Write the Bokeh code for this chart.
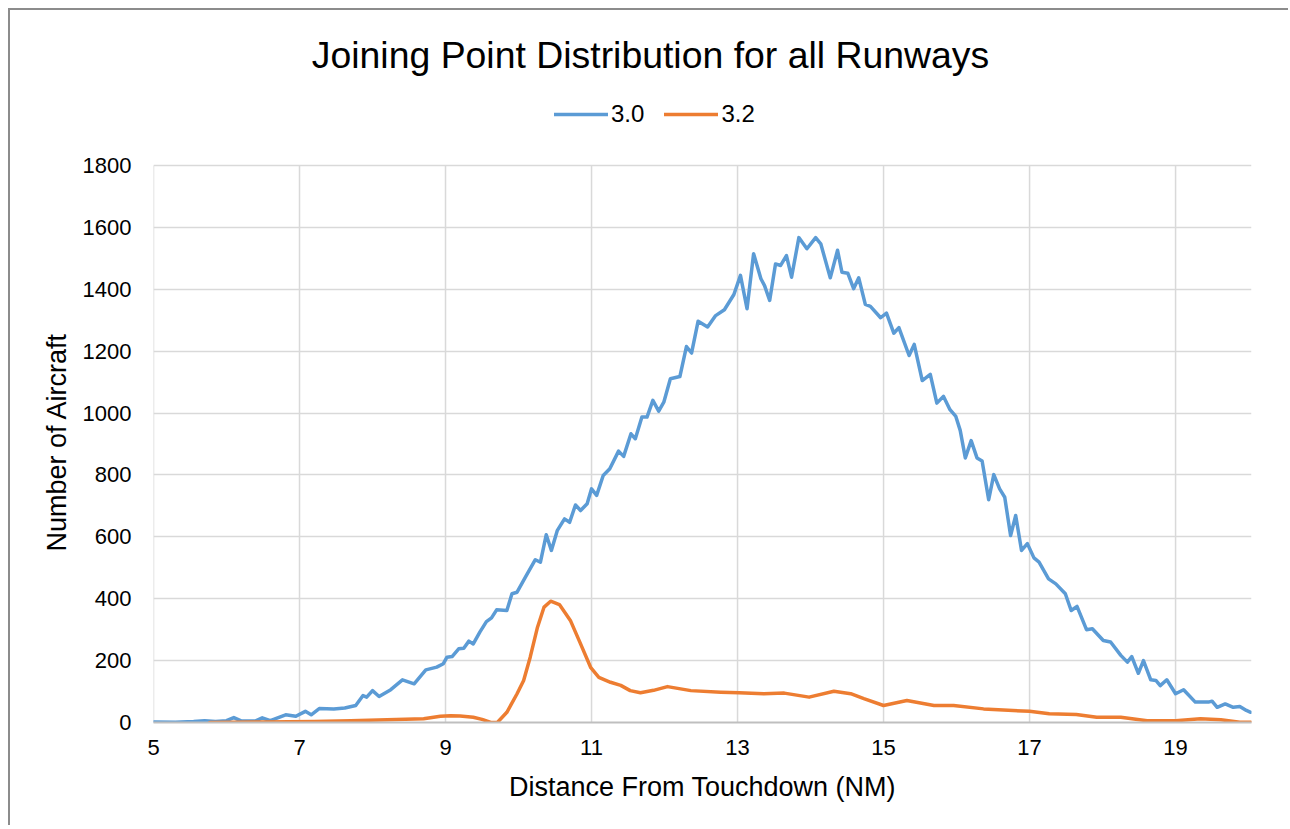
from bokeh.plotting import figure
from bokeh.models import Legend, LegendItem, FixedTicker, Range1d, Title, Label
from bokeh.embed import file_html
from bokeh.resources import INLINE

# ---------------- data ----------------
dist_30 = [5.00, 5.30, 5.55, 5.70, 5.85, 6.00, 6.10, 6.20, 6.40, 6.49,
           6.60, 6.81, 6.95, 7.08, 7.16, 7.27, 7.47, 7.62, 7.77, 7.87,
           7.92, 8.00, 8.09, 8.25, 8.41, 8.57, 8.73, 8.88, 8.97, 9.02,
           9.09, 9.18, 9.25, 9.32, 9.38, 9.47, 9.56, 9.63, 9.70, 9.84,
           9.91, 9.98, 10.10, 10.23, 10.30, 10.38, 10.45, 10.53, 10.63, 10.70,
           10.78, 10.85, 10.94, 11.00, 11.07, 11.16, 11.25, 11.37, 11.44, 11.54,
           11.60, 11.69, 11.76, 11.84, 11.92, 11.99, 12.08, 12.21, 12.30, 12.37,
           12.46, 12.59, 12.70, 12.82, 12.95, 13.04, 13.13, 13.22, 13.32, 13.37,
           13.44, 13.52, 13.59, 13.67, 13.74, 13.84, 13.95, 14.07, 14.14, 14.27,
           14.37, 14.43, 14.51, 14.59, 14.66, 14.75, 14.82, 14.96, 15.04, 15.14,
           15.21, 15.35, 15.42, 15.53, 15.64, 15.73, 15.82, 15.91, 15.99, 16.05,
           16.12, 16.20, 16.28, 16.35, 16.44, 16.51, 16.59, 16.66, 16.74, 16.81,
           16.89, 16.97, 17.06, 17.13, 17.26, 17.36, 17.49, 17.57, 17.65, 17.78,
           17.86, 18.01, 18.11, 18.25, 18.34, 18.40, 18.49, 18.56, 18.66, 18.73,
           18.79, 18.88, 19.00, 19.11, 19.27, 19.45, 19.50, 19.57, 19.68, 19.79,
           19.88, 19.97, 20.03]
count_30 = [2, 1, 3, 6, 3, 6, 16, 5, 5, 15,
            6, 25, 20, 36, 25, 45, 44, 47, 55, 87,
            82, 103, 84, 106, 138, 125, 170, 179, 190, 211,
            213, 238, 240, 263, 254, 292, 326, 338, 364, 362,
            416, 421, 472, 526, 518, 607, 556, 620, 658, 647,
            703, 685, 707, 755, 734, 798, 820, 877, 860, 933,
            917, 987, 987, 1041, 1006, 1035, 1111, 1118, 1215, 1194,
            1297, 1278, 1315, 1334, 1383, 1445, 1337, 1515, 1434, 1412,
            1364, 1482, 1477, 1509, 1439, 1567, 1531, 1567, 1547, 1437,
            1526, 1455, 1452, 1402, 1437, 1351, 1345, 1308, 1323, 1258,
            1276, 1186, 1222, 1105, 1125, 1032, 1054, 1011, 989, 944,
            855, 911, 855, 845, 720, 801, 755, 728, 604, 669,
            556, 578, 532, 518, 464, 448, 416, 362, 375, 300,
            303, 265, 260, 217, 195, 213, 159, 200, 138, 136,
            119, 138, 93, 106, 66, 66, 69, 49, 60, 49,
            52, 39, 33]

dist_32 = [5.77, 6.50, 7.20, 7.70, 8.20, 8.70, 8.93, 9.07, 9.20, 9.38,
           9.50, 9.62, 9.71, 9.84, 9.98, 10.07, 10.16, 10.26, 10.35, 10.44,
           10.56, 10.71, 10.85, 10.99, 11.10, 11.26, 11.40, 11.53, 11.67, 11.85,
           12.04, 12.36, 12.77, 13.02, 13.36, 13.64, 13.98, 14.32, 14.55, 14.73,
           15.00, 15.32, 15.69, 15.96, 16.37, 17.00, 17.27, 17.64, 17.92, 18.11,
           18.25, 18.61, 19.00, 19.34, 19.62, 19.88, 20.03]
count_32 = [0, 2, 3, 6, 9, 12, 20, 22, 21, 17,
            10, 0, 0, 33, 93, 136, 211, 308, 373, 392,
            381, 330, 254, 177, 146, 130, 120, 103, 96, 104,
            116, 103, 98, 96, 93, 95, 82, 101, 93, 77,
            55, 71, 55, 55, 44, 36, 28, 26, 17, 17,
            17, 6, 6, 12, 9, 1, 1]

series_labels = ["3.0", "3.2"]
x_ticks = [5, 7, 9, 11, 13, 15, 17, 19]
y_ticks = [0, 200, 400, 600, 800, 1000, 1200, 1400, 1600, 1800]

title_text = "Joining Point Distribution for all Runways"
x_title = "Distance From Touchdown (NM)"
y_title = "Number of Aircraft"

# ---------------- styling / geometry (page pixels) ----------------
FONT = "Liberation Sans"
BLUE = "#5B9BD5"
ORANGE = "#ED7D31"
GRID = "#d9d9d9"
TXT = "#000000"

OX, OY = 10, 10                # figure content origin (css margin 8 + border 2)
FRAME_L, FRAME_R = 153, 1251   # plot area left / right
FRAME_B = 722                  # y = 0
Y_TOP_PX = 165                 # y = 1800
W, H = 1290 - OX, 827 - OY

BL = FRAME_L - OX
BR = W - BL - (FRAME_R - FRAME_L)
BT = 0
BB = H - (FRAME_B - OY)
frame_h = FRAME_B - OY
y_max = y_ticks[-1] * frame_h / (FRAME_B - Y_TOP_PX)   # frame reaches up to the title

p = figure(width=W, height=H, output_backend="svg", toolbar_location=None,
           title=None,
           x_range=Range1d(5, 20.04), y_range=Range1d(0, y_max),
           min_border_left=BL, min_border_right=BR,
           min_border_top=BT, min_border_bottom=BB)
p.outline_line_color = None
p.background_fill_color = "white"
p.border_fill_color = "white"
p.styles = {"margin-left": "8px", "margin-top": "8px",
            "border-top": "2px solid #8c8c8c", "border-left": "2px solid #8c8c8c"}

# grid: horizontal lines from the grid, vertical lines limited to 0..1800
p.xaxis.ticker = FixedTicker(ticks=x_ticks)
p.yaxis.ticker = FixedTicker(ticks=y_ticks)
p.ygrid.ticker = FixedTicker(ticks=y_ticks)
p.ygrid.grid_line_color = GRID
p.ygrid.grid_line_width = 1.5
p.xgrid.grid_line_color = None
p.segment(x0=x_ticks, y0=y_ticks[0], x1=x_ticks, y1=y_ticks[-1],
          line_color=GRID, line_width=1.5, level="underlay")

# axes
for ax in (p.xaxis, p.yaxis):
    ax.major_tick_line_color = None
    ax.minor_tick_line_color = None
    ax.major_tick_out = 0
    ax.major_tick_in = 0
    ax.major_label_text_font = FONT
    ax.major_label_text_font_size = "22px"
    ax.major_label_text_color = TXT
    ax.axis_label_text_font = FONT
    ax.axis_label_text_font_size = "27px"
    ax.axis_label_text_font_style = "normal"
    ax.axis_label_text_color = TXT

p.yaxis.axis_line_color = None
p.yaxis.major_label_standoff = 22

p.xaxis.axis_line_color = "#bfbfbf"
p.xaxis.axis_line_width = 2
p.xaxis.major_label_standoff = 17
p.xaxis.axis_label = x_title
p.xaxis.axis_label_standoff = 14

# y axis title, centred on the 0..1800 part of the axis
ytitle = Title(text=y_title, text_font=FONT, text_font_size="27px",
               text_font_style="normal", text_color=TXT,
               align="left", offset=171, vertical_align="bottom", standoff=15)
p.add_layout(ytitle, "left")

# lines
r30 = p.line(dist_30, count_30, line_color=BLUE, line_width=3.5,
             line_join="round", line_cap="round")
r32 = p.line(dist_32, count_32, line_color=ORANGE, line_width=3.5,
             line_join="round", line_cap="round")

# legend (inside the tall frame, above the 1800 grid line)
legend = Legend(items=[LegendItem(label=series_labels[0], renderers=[r30]),
                       LegendItem(label=series_labels[1], renderers=[r32])],
                orientation="horizontal", location=(554 - FRAME_L, FRAME_B - 128),
                glyph_width=54, glyph_height=24, label_height=24,
                label_standoff=3, spacing=20, padding=0, margin=0,
                border_line_color=None, background_fill_alpha=0,
                label_text_font=FONT, label_text_font_size="24px",
                label_text_color=TXT)
p.add_layout(legend, "center")

# chart title
title = Label(x=650 - FRAME_L, y=FRAME_B - 54, x_units="screen", y_units="screen",
              text=title_text, text_font=FONT, text_font_size="37.4px",
              text_color=TXT, text_align="center", text_baseline="middle")
p.add_layout(title)

open("out.html", "w").write(file_html(p, INLINE))
